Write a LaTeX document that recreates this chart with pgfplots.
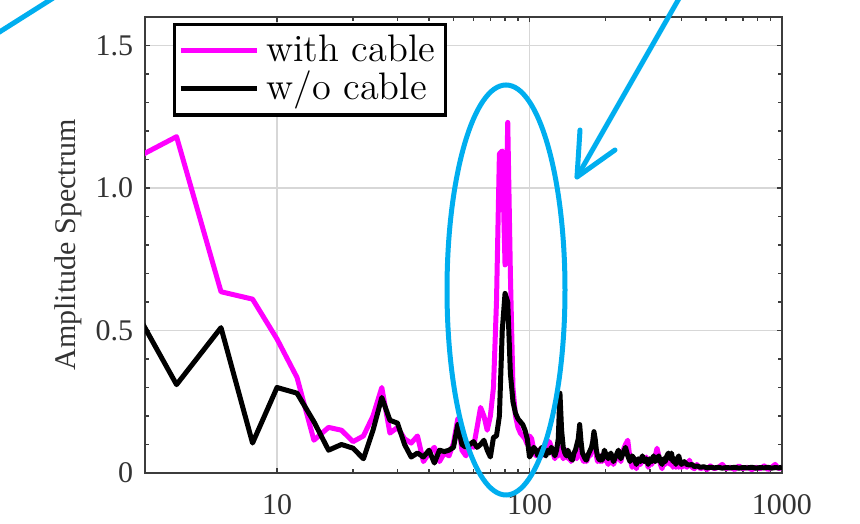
\documentclass[border=0pt]{standalone}
\usepackage{pgfplots}
\pgfplotsset{compat=1.18}
\usepackage{fontspec}
\newfontfamily\timesfont{Liberation Serif}
\definecolor{annblue}{RGB}{0,174,239}
\definecolor{axgray}{RGB}{60,60,60}
\definecolor{gridgray}{RGB}{215,215,215}
\definecolor{pmag}{RGB}{255,0,255}
\begin{document}
\begin{tikzpicture}[x=0.3pt,y=-0.3pt]
\useasboundingbox (0,0) rectangle (860,524);
\begin{axis}[
  at={(43.5pt,-141.9pt)}, anchor=south west,
  scale only axis, width=191.1pt, height=136.8pt,
  xmode=log, xmin=3, xmax=1000, ymin=0, ymax=1.6,
  xtick={10,100,1000}, xticklabels={10,100,1000},
  ytick={0,0.5,1.0,1.5}, yticklabels={0,0.5,1.0,1.5},
  minor y tick num=4,
  tick align=inside, xtick pos=both, ytick pos=both,
  major tick length=1.5pt, minor tick length=1.1pt,
  every tick/.style={axgray, line width=0.45pt},
  axis line style={axgray, line width=0.75pt},
  grid=major, major grid style={gridgray, line width=0.5pt},
  tick label style={font=\timesfont\fontsize{9}{10}\selectfont, text=black!80},
  xticklabel style={yshift=-3pt},
  ylabel={Amplitude Spectrum},
  ylabel style={font=\timesfont\fontsize{9}{10}\selectfont, text=black!80, at={(axis description cs:-0.12,0.5)}, anchor=center},
  legend style={at={(0.044,0.987)}, anchor=north west, draw=black, line width=1pt,
    font=\fontsize{11.5}{12}\selectfont, inner sep=1pt, row sep=-2.5pt,
    cells={anchor=west}},
  legend image code/.code={\draw[#1, line width=1.5pt] (0pt,0pt) -- (23pt,0pt);},
  clip=true,
]
\addplot[pmag, line width=1.5pt, line join=round] coordinates {
(2,1.04)(4,1.18)(6,0.636)(8,0.61)(10,0.47)(12,0.335)(14,0.115)(16,0.16)(18,0.15)(20,0.11)
(22,0.13)(24,0.2)(26,0.30)(28,0.14)(30,0.16)(32,0.12)(34,0.105)(36,0.13)(38,0.04)(40,0.07)
(42,0.09)(44,0.04)(46,0.07)(48,0.06)(50,0.105)(52,0.19)(54,0.08)(56,0.06)(58,0.1)(60,0.09)
(62,0.16)(64,0.23)(66,0.2)(68,0.15)(70,0.2)(72,0.3)(74,0.6)(76,1.12)(78,1.13)(80,0.73)
(82,1.23)(84,0.7)(86,0.3)(88,0.2)(90,0.16)(92,0.14)(94,0.13)(96,0.12)(98,0.1)(100,0.13)
(102,0.12)(104,0.08)(106,0.06)(108,0.08)(110,0.08)(112,0.06)(114,0.09)(116,0.11)(118,0.08)(120,0.11)
(122,0.09)(124,0.07)(126,0.05)(128,0.07)(130,0.06)(132,0.09)(134,0.07)(136,0.05)(138,0.06)(140,0.08)
(142,0.05)(144,0.07)(146,0.04)(148,0.06)(150,0.05)(152,0.07)(154,0.05)(156,0.08)(158,0.14)(160,0.09)
(162,0.05)(164,0.04)(166,0.06)(168,0.04)(170,0.05)(172,0.07)(174,0.06)(176,0.08)(178,0.1)(180,0.13)
(182,0.1)(184,0.06)(186,0.04)(188,0.05)(190,0.04)(192,0.06)(194,0.04)(196,0.05)(198,0.07)(200,0.05)
(205,0.03)(210,0.06)(215,0.03)(220,0.05)(225,0.07)(230,0.04)(235,0.08)(240,0.1)(245,0.115)(250,0.05)
(255,0.02)(260,0.04)(265,0.015)(270,0.04)(275,0.03)(280,0.05)(285,0.04)(290,0.056)(295,0.02)(300,0.04)
(305,0.03)(310,0.05)(315,0.06)(320,0.087)(325,0.06)(330,0.03)(335,0.015)(340,0.04)(345,0.03)(350,0.05)
(355,0.04)(360,0.03)(365,0.05)(370,0.02)(375,0.03)(380,0.02)(385,0.03)(390,0.02)(395,0.03)(400,0.02)
(410,0.03)(420,0.02)(430,0.045)(440,0.02)(450,0.015)(460,0.03)(475,0.015)(490,0.02)(505,0.012)(520,0.025)
(540,0.015)(560,0.02)(580,0.03)(600,0.015)(625,0.02)(650,0.012)(675,0.025)(700,0.015)(730,0.02)(760,0.012)
(790,0.02)(820,0.015)(850,0.025)(880,0.012)(910,0.02)(940,0.03)(970,0.015)(1000,0.02)
};
\addlegendentry{with cable}
\addplot[black, line width=1.5pt, line join=round] coordinates {
(2,0.79)(4,0.31)(6,0.51)(8,0.105)(10,0.30)(12,0.28)(14,0.18)(16,0.08)(18,0.10)(20,0.087)
(22,0.05)(24,0.15)(26,0.265)(28,0.185)(30,0.175)(32,0.10)(34,0.056)(36,0.07)(38,0.056)(40,0.08)
(42,0.035)(44,0.08)(46,0.075)(48,0.08)(50,0.09)(52,0.17)(54,0.10)(56,0.09)(58,0.10)(60,0.11)
(62,0.09)(64,0.10)(66,0.115)(68,0.08)(70,0.056)(72,0.125)(74,0.13)(76,0.2)(78,0.5)(80,0.63)
(82,0.6)(84,0.35)(86,0.25)(88,0.21)(90,0.19)(92,0.18)(94,0.17)(96,0.15)(98,0.12)(100,0.056)
(102,0.07)(104,0.09)(106,0.08)(108,0.06)(110,0.08)(112,0.09)(114,0.07)(116,0.06)(118,0.08)(120,0.07)
(122,0.09)(124,0.08)(126,0.06)(128,0.08)(130,0.12)(132,0.28)(134,0.15)(136,0.09)(138,0.07)(140,0.06)
(142,0.08)(144,0.06)(146,0.05)(148,0.045)(150,0.07)(152,0.08)(154,0.10)(156,0.12)(158,0.17)(160,0.11)
(162,0.07)(164,0.06)(166,0.05)(168,0.045)(170,0.06)(172,0.07)(174,0.08)(176,0.09)(178,0.11)(180,0.145)
(182,0.12)(184,0.08)(186,0.06)(188,0.05)(190,0.045)(192,0.06)(194,0.045)(196,0.06)(198,0.08)(200,0.07)
(205,0.05)(210,0.07)(215,0.04)(220,0.06)(225,0.08)(230,0.05)(235,0.07)(240,0.09)(245,0.06)(250,0.04)
(255,0.06)(260,0.05)(265,0.03)(270,0.05)(275,0.04)(280,0.06)(285,0.04)(290,0.05)(295,0.03)(300,0.05)
(305,0.04)(310,0.06)(315,0.04)(320,0.05)(325,0.06)(330,0.04)(335,0.03)(340,0.05)(345,0.04)(350,0.06)
(355,0.07)(360,0.05)(365,0.07)(370,0.04)(375,0.05)(380,0.03)(385,0.05)(390,0.06)(395,0.04)(400,0.03)
(410,0.04)(420,0.03)(430,0.028)(440,0.03)(450,0.022)(460,0.025)(475,0.02)(490,0.022)(505,0.018)(520,0.02)
(540,0.018)(560,0.02)(580,0.017)(600,0.019)(625,0.018)(650,0.02)(675,0.017)(700,0.019)(730,0.018)(760,0.02)
(790,0.017)(820,0.019)(850,0.018)(880,0.02)(910,0.017)(940,0.019)(970,0.018)(1000,0.02)
};
\addlegendentry{w/o cable}
\end{axis}
% annotations
\draw[annblue, line width=1.5pt] (506,290) ellipse [x radius=59, y radius=205];
\draw[annblue, line width=1.5pt, line cap=round] (-10,38) -- (58,-5);
\draw[annblue, line width=1.5pt, line cap=round, line join=round] (685,-12) -- (577,177);
\draw[annblue, line width=1.5pt, line cap=round, line join=round] (580,130) -- (577,177) -- (615,150);
\end{tikzpicture}
\end{document}
